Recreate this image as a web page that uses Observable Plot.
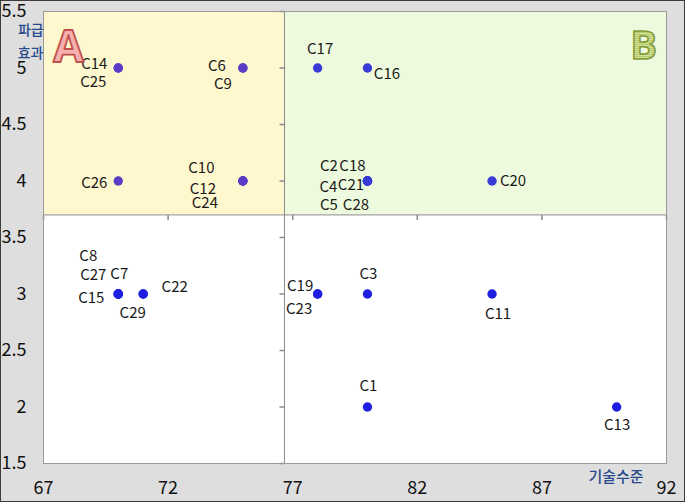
<!DOCTYPE html>
<html><head><meta charset="utf-8">
<script src="https://cdn.jsdelivr.net/npm/d3@7"></script>
<script src="https://cdn.jsdelivr.net/npm/@observablehq/plot@0.6"></script>
<style>
html,body{margin:0;padding:0;background:#dedede;}
#wrap{position:relative;width:685px;height:502px;overflow:hidden;}
#wrap svg{display:block;}
#border{position:absolute;left:0;top:0;width:685px;height:502px;box-sizing:border-box;border:1px solid #3c3c3c;pointer-events:none;}
</style></head>
<body><div id="wrap"><div id="border"></div></div>
<script>
// ---- data ----
const companies = ["C1","C2","C3","C4","C5","C6","C7","C8","C9","C10","C11","C12","C13","C14","C15","C16","C17","C18","C19","C20","C21","C22","C23","C24","C25","C26","C27","C28","C29"];
const techLevel = [80,80,80,80,80,75,70,70,75,75,85,75,90,70,70,80,78,80,78,85,80,71,78,75,70,70,70,80,71];
const impact    = [2,4,3,4,4,5,3,3,5,4,3,4,2,5,3,5,5,4,3,4,4,3,3,4,5,4,3,4,3];
const xTicks = [67,72,77,82,87,92];
const yTicks = [1.5,2,2.5,3,3.5,4,4.5,5,5.5];
const crossX = 76.67;   // vertical quadrant divider (기술수준)
const crossY = 3.7;     // horizontal quadrant divider (파급효과)
const quadrantNames = ["A","B"];
const xTitle = "기술수준";
const yTitle = ["파급","효과"];

// ---- label placement (pixel offsets) ----
const labelDx = [1,-38.5,1,-39,-38.5,-26,1,-30,-20,-41.5,6,-40,0.5,-24,-27,19.5,2.5,-15,-17.5,21,-16.5,31.5,-18.5,-38,-25,-24,-25,-11.5,-10.5];
const labelDy = [-21,-15,-20,6,24,-2,-20,-38,16,-12.5,20,8.5,18.5,-4,4,6.5,-19,-15,-8,0,4,-7,15,22.5,14,2.5,-19,24,19];

// ---- styles ----
const colorA = "#fff8cf", colorB = "#eefadd";
const dotA = "#5a3cc6", dotB = "#3a3ad4", dotC = "#1f1fe2";
const lineColor = "#8a8a8a";
const titleColor = "#284a8c";

const data = companies.map((name, i) => ({name, tech: techLevel[i], impact: impact[i], i}));
const quadrants = [
  {name: quadrantNames[0], x1: xTicks[0], x2: crossX, y1: crossY, y2: yTicks[yTicks.length-1], fill: colorA},
  {name: quadrantNames[1], x1: crossX, x2: xTicks[xTicks.length-1], y1: crossY, y2: yTicks[yTicks.length-1], fill: colorB}
];
const tickDown = {draw(ctx){ ctx.moveTo(0,0); ctx.lineTo(0,5); }};
const tickLeft = {draw(ctx){ ctx.moveTo(0,0); ctx.lineTo(-5,0); }};
const dotFill = d => d.tech < crossX && d.impact > crossY ? dotA : (d.impact > crossY ? dotB : dotC);
const centered = {textAnchor: "middle", lineAnchor: "middle"};

const chart = Plot.plot({
  width: 685, height: 502,
  marginLeft: 43, marginRight: 19, marginTop: 11, marginBottom: 39,
  x: {domain: [xTicks[0], xTicks[xTicks.length-1]]},
  y: {domain: [yTicks[0], yTicks[yTicks.length-1]]},
  style: {background: "#dedede", fontFamily: "'Noto Sans CJK KR', sans-serif", overflow: "visible"},
  marks: [
    Plot.frame({fill: "white", stroke: null}),
    Plot.rect(quadrants, {x1: "x1", x2: "x2", y1: "y1", y2: "y2", fill: "fill"}),
    Plot.ruleX([crossX], {stroke: lineColor}),
    Plot.ruleY([crossY], {stroke: lineColor}),
    Plot.dot(xTicks, {x: d => d, y: () => crossY, symbol: tickDown, stroke: lineColor, fill: "none", r: 3}),
    Plot.dot(yTicks, {x: () => crossX, y: d => d, symbol: tickLeft, stroke: lineColor, fill: "none", r: 3}),
    Plot.frame({stroke: "#9a9a9a"}),
    Plot.axisX(xTicks, {tickSize: 0, tickPadding: 18, fontSize: 18, label: null, fill: "#111"}),
    Plot.axisY(yTicks, {tickSize: 0, tickPadding: 17, fontSize: 18, label: null, fill: "#111", tickFormat: d => String(d)}),
    Plot.dot(data, {x: "tech", y: "impact", r: 4.7, fill: dotFill}),
    ...data.map((d, i) => Plot.text([d], {x: "tech", y: "impact", text: "name", dx: labelDx[i], dy: labelDy[i], fontSize: 15, fill: "#1a1a1a"})),
    Plot.text([yTitle[0]], {...centered, text: d => d, frameAnchor: "top-left", dx: -12.7, dy: 19.5, fontSize: 14, fontWeight: 500, fill: titleColor}),
    Plot.text([yTitle[1]], {...centered, text: d => d, frameAnchor: "top-left", dx: -13, dy: 42.5, fontSize: 14, fontWeight: 500, fill: titleColor}),
    Plot.text([xTitle], {...centered, text: d => d, frameAnchor: "bottom-right", dx: -50.5, dy: 14, fontSize: 15, fontWeight: 500, fill: titleColor}),
    Plot.text([quadrantNames[0]], {...centered, text: d => d, frameAnchor: "top-left", dx: 25, dy: 36.5, fontSize: 44, fontWeight: "bold", fontFamily: "'Open Sans', sans-serif", fill: "#f6b0ae", stroke: "#c0504d", strokeWidth: 1.8, paintOrder: "normal"}),
    Plot.text([quadrantNames[1]], {...centered, text: d => d, frameAnchor: "top-right", dx: -22.7, dy: 34.8, fontSize: 40, fontWeight: "bold", fontFamily: "'Open Sans', sans-serif", fill: "url(#bstripe)", stroke: "#7f9a34", strokeWidth: 1.5, paintOrder: "normal"})
  ]
});

const defs = d3.select(chart).insert("defs", ":first-child");
const pat = defs.append("pattern").attr("id", "bstripe").attr("patternUnits", "userSpaceOnUse").attr("width", 4).attr("height", 2);
pat.append("rect").attr("width", 4).attr("height", 2).attr("fill", "#e4efb4");
pat.append("rect").attr("width", 4).attr("height", 1).attr("fill", "#a3bb52");

const wrap = document.getElementById("wrap");
wrap.insertBefore(chart, document.getElementById("border"));
</script>
</body></html>
